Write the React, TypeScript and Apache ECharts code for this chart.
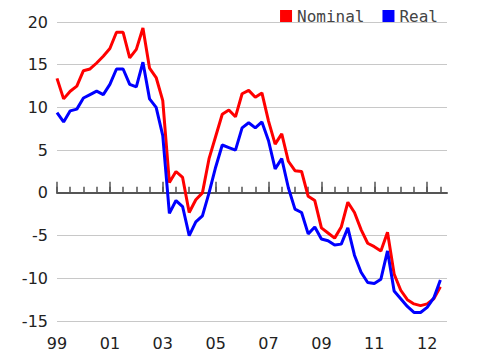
import React, { useEffect, useRef } from "react";
import * as echarts from "echarts";

const years = ["1999", "2000", "2001", "2002", "2003", "2004", "2005", "2006", "2007", "2008", "2009", "2010", "2011", "2012", "2013"];
const quarters = ["Q1", "Q2", "Q3", "Q4"];
const categories: string[] = [];
years.forEach((y) => quarters.forEach((q) => categories.push(y + q)));

const yearTickLabels = ["99", "01", "03", "05", "07", "09", "11", "12"];

const nominal = [13.4, 11.0, 11.9, 12.5, 14.3, 14.5, 15.2, 16.0, 16.9, 18.8, 18.8, 15.8, 16.8, 19.3, 14.6, 13.5, 10.8, 1.2, 2.5, 1.8, -2.3, -0.8, 0.0, 4.0, 6.6, 9.2, 9.7, 8.9, 11.6, 12.0, 11.2, 11.7, 8.4, 5.7, 6.9, 3.7, 2.6, 2.5, -0.4, -0.9, -4.1, -4.7, -5.3, -4.0, -1.1, -2.3, -4.3, -5.9, -6.3, -6.8, -4.6, -9.5, -11.4, -12.5, -13.0, -13.2, -13.0, -12.4, -11.0];
const real = [9.4, 8.3, 9.6, 9.8, 11.1, 11.5, 11.9, 11.5, 12.7, 14.5, 14.5, 12.7, 12.4, 15.3, 11.0, 10.0, 6.7, -2.4, -0.9, -1.6, -5.0, -3.4, -2.7, 0.0, 3.0, 5.6, 5.3, 5.0, 7.6, 8.2, 7.6, 8.3, 6.1, 2.8, 4.0, 0.6, -1.9, -2.3, -4.8, -4.0, -5.4, -5.6, -6.1, -6.0, -4.1, -7.3, -9.3, -10.5, -10.6, -10.1, -6.8, -11.5, -12.4, -13.3, -14.0, -14.0, -13.4, -12.3, -10.2];

const lastIdx = nominal.length - 1;

export default function App() {
  const ref = useRef<HTMLDivElement>(null);
  useEffect(() => {
    if (!ref.current) return;
    const chart = echarts.init(ref.current, undefined, { renderer: "svg" });
    const font = "'DejaVu Sans', Verdana, sans-serif";
    chart.setOption({
      animation: false,
      backgroundColor: "#ffffff",
      legend: {
        top: 3,
        right: 37,
        itemWidth: 12,
        itemHeight: 12,
        itemGap: 18,
        icon: "rect",
        textStyle: { fontFamily: "'DejaVu Sans Mono', monospace", fontSize: 16, color: "#444" },
        data: ["Nominal", "Real"],
      },
      grid: { left: 57, right: 33, top: 22, bottom: 39 },
      xAxis: [
        {
          type: "category",
          data: categories,
          boundaryGap: false,
          position: "bottom",
          axisLine: { show: false, onZero: false },
          axisTick: { show: false },
          splitLine: { show: false },
          axisLabel: {
            interval: (i: number) => i % 8 === 0 && i <= 56,
            formatter: (_v: string, i: number) => yearTickLabels[Math.round(i / 8)] ?? "",
            fontFamily: font,
            fontSize: 16,
            color: "#222",
            margin: 14,
          },
        },
        {
          type: "category",
          data: categories,
          boundaryGap: false,
          position: "bottom",
          axisLine: { show: true, onZero: true, onZeroAxisIndex: 0, lineStyle: { color: "#555", width: 2 } },
          axisTick: {
            show: true,
            inside: true,
            length: 6,
            interval: (i: number) => i % 2 === 0 && i <= lastIdx,
            lineStyle: { color: "#555", width: 1.5 },
          },
          axisLabel: { show: false },
          splitLine: { show: false },
        },
        {
          type: "category",
          data: categories,
          boundaryGap: false,
          position: "bottom",
          axisLine: { show: false, onZero: true, onZeroAxisIndex: 1 },
          axisTick: {
            show: true,
            inside: true,
            length: 11,
            interval: (i: number) => i % 8 === 0 && i <= 56,
            lineStyle: { color: "#555", width: 1.5 },
          },
          axisLabel: { show: false },
          splitLine: { show: false },
        },
      ],
      yAxis: [
        {
          type: "value",
          min: -15,
          max: 20,
          interval: 5,
          position: "left",
          axisLine: { show: false },
          axisTick: { show: false },
          axisLabel: { fontFamily: font, fontSize: 16, color: "#222", margin: 9 },
          splitLine: { lineStyle: { color: "#c8c8c8", width: 1 } },
        },
        {
          type: "value",
          min: -15,
          max: 20,
          interval: 5,
          position: "right",
          axisLine: { show: false },
          axisTick: { show: false },
          axisLabel: { show: false },
          splitLine: { show: false },
        },
      ],
      series: [
        {
          name: "Nominal",
          type: "line",
          xAxisIndex: 0,
          yAxisIndex: 0,
          data: nominal,
          symbol: "none",
          itemStyle: { color: "#ff0000" },
          lineStyle: { color: "#ff0000", width: 3 },
        },
        {
          name: "Real",
          type: "line",
          xAxisIndex: 0,
          yAxisIndex: 0,
          data: real,
          symbol: "none",
          itemStyle: { color: "#0000ff" },
          lineStyle: { color: "#0000ff", width: 3 },
        },
      ],
    });
    return () => chart.dispose();
  }, []);
  return <div ref={ref} style={{ position: "fixed", left: 0, top: 0, width: 480, height: 360 }} />;
}
